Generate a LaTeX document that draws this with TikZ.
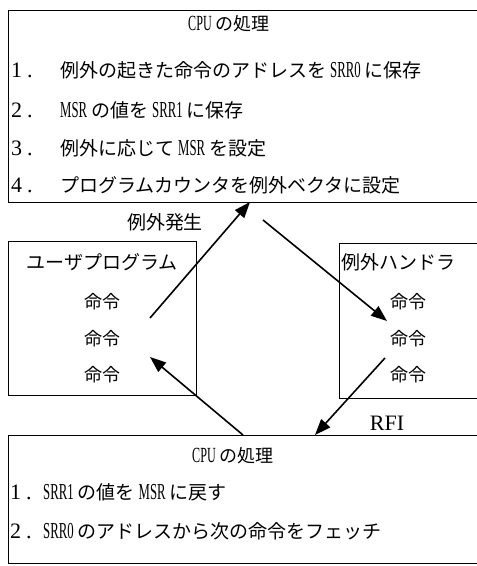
\documentclass[tikz,border=0pt]{standalone}
\usepackage{fontspec}
\setmainfont{Noto Sans CJK JP}
\newfontfamily\lt[FakeStretch=0.56,Scale=1.2]{Liberation Serif}
\newfontfamily\ltn{Liberation Serif}
\newcommand\lat[1]{\hspace{4pt}{\lt #1}\hspace{4pt}}
\newcommand\latl[1]{{\lt #1}\hspace{4pt}}
\newcommand\num[1]{{\ltn\fontsize{22}{24}\selectfont #1\kern5pt.}}
\usetikzlibrary{arrows.meta}
\begin{document}
\begin{tikzpicture}[x=1pt,y=-1pt,
  box/.style={draw, line width=1.3pt, inner sep=0pt, anchor=north west},
  arr/.style={line width=1.6pt, -{Triangle[length=16pt,width=12pt]}},
  listtxt/.style={anchor=west, inner sep=0pt, font=\fontsize{19}{24}\selectfont},
  ttl/.style={anchor=center, inner sep=0pt, font=\fontsize{18}{22}\selectfont},
  lbl/.style={anchor=center, inner sep=0pt, font=\fontsize{19}{22}\selectfont},
  cmd/.style={anchor=center, inner sep=0pt, font=\fontsize{18}{22}\selectfont}]
\useasboundingbox (0,0) rectangle (477,566);
\clip (0,0) rectangle (477,566);
\fill[white] (0,0) rectangle (477,566);

% boxes
\node[box, minimum width=480pt, minimum height=192pt] (topbox) at (8,10) {};
\node[box, minimum width=188pt, minimum height=154pt] (userbox) at (8,241) {};
\node[box, minimum width=150pt, minimum height=155pt] (hndbox) at (339,243) {};
\node[box, minimum width=480pt, minimum height=128pt] (botbox) at (8,435) {};

% top box text
\node[ttl] (ttop) at (229,24) {\latl{CPU}の処理};
\node[listtxt] (n1) at (11,70) {\num{1}};
\node[listtxt] (l1) at (60,70) {例外の起きた命令のアドレスを\lat{SRR0}に保存};
\node[listtxt] (n2) at (11,110) {\num{2}};
\node[listtxt] (l2) at (60,110) {\latl{MSR}の値を\lat{SRR1}に保存};
\node[listtxt] (n3) at (11,148) {\num{3}};
\node[listtxt] (l3) at (60,148) {例外に応じて\lat{MSR}を設定};
\node[listtxt] (n4) at (11,185) {\num{4}};
\node[listtxt] (l4) at (60,185) {プログラムカウンタを例外ベクタに設定};

% user program
\node[lbl] (ut) at (102,262) {ユーザプログラム};
\node[cmd] (u1) at (102,302) {命令};
\node[cmd] (u2) at (102,339) {命令};
\node[cmd] (u3) at (102,375) {命令};

% handler
\node[lbl, anchor=west] (ht) at (341,262) {例外ハンドラ};
\node[cmd] (h1) at (408,302) {命令};
\node[cmd] (h2) at (408,339) {命令};
\node[cmd] (h3) at (408,375) {命令};

% labels
\node[lbl] (exc) at (165,222) {例外発生};
\node[anchor=center, inner sep=0pt, font=\ltn\fontsize{22}{24}\selectfont] (rfi) at (387,423) {RFI};

% bottom box text
\node[ttl] (tbot) at (233,456) {\latl{CPU}の処理};
\node[listtxt] (m1) at (10,492) {\num{1}};
\node[listtxt] (k1) at (43,492) {\latl{SRR1}の値を\lat{MSR}に戻す};
\node[listtxt] (m2) at (10,531) {\num{2}};
\node[listtxt] (k2) at (43,531) {\latl{SRR0}のアドレスから次の命令をフェッチ};

% arrows
\coordinate (a1s) at (150,318);
\coordinate (a1e) at (250,202);
\coordinate (a2s) at (263,220);
\coordinate (a2e) at (387,321);
\coordinate (a3s) at (385,358);
\coordinate (a3e) at (315,435);
\coordinate (a4s) at (243,435);
\coordinate (a4e) at (150,357);
\draw[arr] (a1s) -- (a1e);
\draw[arr] (a2s) -- (a2e);
\draw[arr] (a3s) -- (a3e);
\draw[arr] (a4s) -- (a4e);
\end{tikzpicture}
\end{document}
